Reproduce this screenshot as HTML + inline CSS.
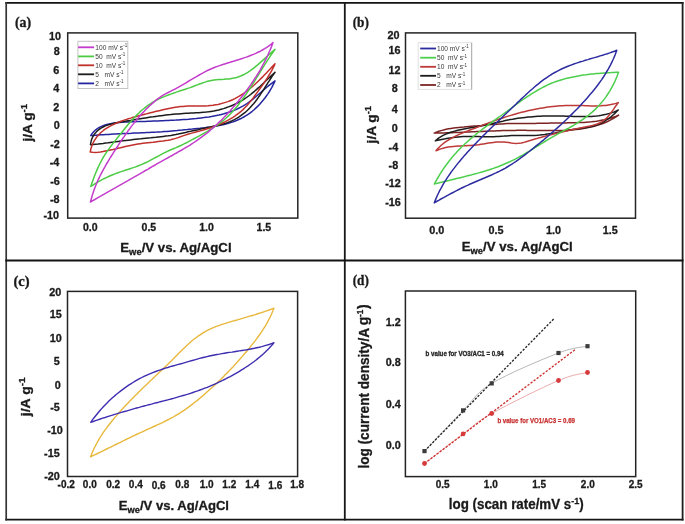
<!DOCTYPE html>
<html><head><meta charset="utf-8"><title>figure</title>
<style>html,body{margin:0;padding:0;background:#fff;width:685px;height:524px;overflow:hidden}svg{display:block;will-change:transform}</style>
</head><body>
<svg width="685" height="524" viewBox="0 0 685 524"><rect x="0" y="0" width="685" height="524" fill="#fff"/>
<line x1="6.20" y1="2.80" x2="682.60" y2="2.80" stroke="#121212" stroke-width="1.80" stroke-linecap="square"/>
<line x1="6.20" y1="519.65" x2="682.60" y2="519.65" stroke="#151515" stroke-width="1.80" stroke-linecap="square"/>
<line x1="6.20" y1="2.80" x2="6.20" y2="519.65" stroke="#353535" stroke-width="1.70" stroke-linecap="square"/>
<line x1="682.60" y1="2.80" x2="682.60" y2="519.65" stroke="#1e1e1e" stroke-width="1.80" stroke-linecap="square"/>
<line x1="344.80" y1="2.80" x2="344.80" y2="519.65" stroke="#171717" stroke-width="1.80" stroke-linecap="square"/>
<line x1="6.20" y1="260.50" x2="682.60" y2="260.50" stroke="#121212" stroke-width="1.80" stroke-linecap="square"/>
<text x="14.90" y="26.60" font-size="15.50" font-weight="bold" text-anchor="start" fill="#1a1a1a" font-family="'Liberation Serif', serif" textLength="16.20" lengthAdjust="spacingAndGlyphs"  stroke="#1a1a1a" stroke-width="0.35">(a)</text>
<text x="352.70" y="26.60" font-size="15.50" font-weight="bold" text-anchor="start" fill="#1a1a1a" font-family="'Liberation Serif', serif" textLength="16.20" lengthAdjust="spacingAndGlyphs"  stroke="#1a1a1a" stroke-width="0.35">(b)</text>
<text x="13.40" y="285.90" font-size="15.50" font-weight="bold" text-anchor="start" fill="#1a1a1a" font-family="'Liberation Serif', serif" textLength="16.20" lengthAdjust="spacingAndGlyphs"  stroke="#1a1a1a" stroke-width="0.35">(c)</text>
<text x="352.70" y="285.20" font-size="15.50" font-weight="bold" text-anchor="start" fill="#1a1a1a" font-family="'Liberation Serif', serif" textLength="16.20" lengthAdjust="spacingAndGlyphs"  stroke="#1a1a1a" stroke-width="0.35">(d)</text>
<rect x="67.70" y="32.90" width="230.10" height="185.20" fill="none" stroke="#242424" stroke-width="1.50"/>
<text x="61.05" y="39.87" font-size="10.80" font-weight="bold" text-anchor="end" fill="#1a1a1a" font-family="'Liberation Sans', sans-serif"  stroke="#1a1a1a" stroke-width="0.3">10</text>
<text x="59.75" y="54.72" font-size="10.80" font-weight="bold" text-anchor="end" fill="#1a1a1a" font-family="'Liberation Sans', sans-serif"  stroke="#1a1a1a" stroke-width="0.3">8</text>
<text x="59.25" y="73.87" font-size="10.80" font-weight="bold" text-anchor="end" fill="#1a1a1a" font-family="'Liberation Sans', sans-serif"  stroke="#1a1a1a" stroke-width="0.3">6</text>
<text x="59.25" y="91.87" font-size="10.80" font-weight="bold" text-anchor="end" fill="#1a1a1a" font-family="'Liberation Sans', sans-serif"  stroke="#1a1a1a" stroke-width="0.3">4</text>
<text x="59.25" y="110.57" font-size="10.80" font-weight="bold" text-anchor="end" fill="#1a1a1a" font-family="'Liberation Sans', sans-serif"  stroke="#1a1a1a" stroke-width="0.3">2</text>
<text x="59.65" y="128.67" font-size="10.80" font-weight="bold" text-anchor="end" fill="#1a1a1a" font-family="'Liberation Sans', sans-serif"  stroke="#1a1a1a" stroke-width="0.3">0</text>
<text x="59.75" y="147.57" font-size="10.80" font-weight="bold" text-anchor="end" fill="#1a1a1a" font-family="'Liberation Sans', sans-serif"  stroke="#1a1a1a" stroke-width="0.3">-2</text>
<text x="59.35" y="166.37" font-size="10.80" font-weight="bold" text-anchor="end" fill="#1a1a1a" font-family="'Liberation Sans', sans-serif"  stroke="#1a1a1a" stroke-width="0.3">-4</text>
<text x="59.75" y="184.87" font-size="10.80" font-weight="bold" text-anchor="end" fill="#1a1a1a" font-family="'Liberation Sans', sans-serif"  stroke="#1a1a1a" stroke-width="0.3">-6</text>
<text x="59.55" y="203.37" font-size="10.80" font-weight="bold" text-anchor="end" fill="#1a1a1a" font-family="'Liberation Sans', sans-serif"  stroke="#1a1a1a" stroke-width="0.3">-8</text>
<text x="59.05" y="219.27" font-size="10.80" font-weight="bold" text-anchor="end" fill="#1a1a1a" font-family="'Liberation Sans', sans-serif"  stroke="#1a1a1a" stroke-width="0.3">-10</text>
<text x="90.20" y="230.66" font-size="10.50" font-weight="bold" text-anchor="middle" fill="#1a1a1a" font-family="'Liberation Sans', sans-serif"  stroke="#1a1a1a" stroke-width="0.3">0.0</text>
<text x="148.90" y="230.66" font-size="10.50" font-weight="bold" text-anchor="middle" fill="#1a1a1a" font-family="'Liberation Sans', sans-serif"  stroke="#1a1a1a" stroke-width="0.3">0.5</text>
<text x="206.50" y="230.66" font-size="10.50" font-weight="bold" text-anchor="middle" fill="#1a1a1a" font-family="'Liberation Sans', sans-serif"  stroke="#1a1a1a" stroke-width="0.3">1.0</text>
<text x="263.90" y="230.66" font-size="10.50" font-weight="bold" text-anchor="middle" fill="#1a1a1a" font-family="'Liberation Sans', sans-serif"  stroke="#1a1a1a" stroke-width="0.3">1.5</text>
<text x="120.30" y="252.30" font-size="12.7" font-weight="bold" fill="#1a1a1a" stroke="#1a1a1a" stroke-width="0.3" font-family="'Liberation Sans', sans-serif" textLength="111.30" lengthAdjust="spacingAndGlyphs">E<tspan font-size="9" dy="3">we</tspan><tspan dy="-3">/V vs. Ag/AgCl</tspan></text>
<text transform="translate(31.60 141.60) rotate(-90)" font-size="12.8" font-weight="bold" fill="#1a1a1a" stroke="#1a1a1a" stroke-width="0.3" font-family="'Liberation Sans', sans-serif" textLength="37.70" lengthAdjust="spacingAndGlyphs">j/A g<tspan font-size="9" dy="-5">-1</tspan></text>
<rect x="77.90" y="41.30" width="49.90" height="47.20" fill="#fff" stroke="#c4c4c4" stroke-width="1"/>
<line x1="78.10" y1="47.30" x2="94.10" y2="47.30" stroke="#c43ccc" stroke-width="1.8"/>
<text x="95.30" y="49.70" font-size="6.6" fill="#383838" font-family="'Liberation Sans', sans-serif" xml:space="preserve">100 mV s<tspan font-size="4.5" dy="-2.5">-1</tspan></text>
<line x1="78.10" y1="56.40" x2="94.10" y2="56.40" stroke="#4ccc44" stroke-width="1.8"/>
<text x="95.30" y="58.80" font-size="6.6" fill="#383838" font-family="'Liberation Sans', sans-serif" xml:space="preserve">50  mV s<tspan font-size="4.5" dy="-2.5">-1</tspan></text>
<line x1="78.10" y1="65.30" x2="94.10" y2="65.30" stroke="#c0302c" stroke-width="1.8"/>
<text x="95.30" y="67.70" font-size="6.6" fill="#383838" font-family="'Liberation Sans', sans-serif" xml:space="preserve">10  mV s<tspan font-size="4.5" dy="-2.5">-1</tspan></text>
<line x1="78.10" y1="74.30" x2="94.10" y2="74.30" stroke="#1c1c1c" stroke-width="1.8"/>
<text x="95.30" y="76.70" font-size="6.6" fill="#383838" font-family="'Liberation Sans', sans-serif" xml:space="preserve">5   mV s<tspan font-size="4.5" dy="-2.5">-1</tspan></text>
<line x1="78.10" y1="83.40" x2="94.10" y2="83.40" stroke="#2626a0" stroke-width="1.8"/>
<text x="95.30" y="85.80" font-size="6.6" fill="#383838" font-family="'Liberation Sans', sans-serif" xml:space="preserve">2   mV s<tspan font-size="4.5" dy="-2.5">-1</tspan></text>
<path d="M90.7 135.6L92.2 133.4L93.9 131.5L95.7 129.8L97.7 128.4L99.8 127.2L102.0 126.1L104.3 125.2L106.7 124.5L109.1 123.9L111.6 123.4L114.1 123.0L116.7 122.7L119.3 122.4L121.9 122.2L124.5 122.1L127.1 122.0L129.8 121.9L132.4 121.8L135.0 121.7L137.6 121.6L140.2 121.5L142.7 121.5L145.3 121.4L147.9 121.3L150.4 121.2L153.0 121.1L155.5 121.0L158.1 120.9L160.6 120.8L163.2 120.7L165.7 120.6L168.2 120.5L170.7 120.3L173.3 120.2L175.8 120.1L178.3 119.9L180.9 119.7L183.4 119.5L185.9 119.4L188.5 119.2L191.0 118.9L193.6 118.7L196.1 118.5L198.7 118.2L201.2 117.9L203.8 117.6L206.3 117.2L208.9 116.9L211.4 116.5L214.0 116.0L216.5 115.5L219.0 115.0L221.5 114.4L223.9 113.8L226.4 113.0L228.8 112.3L231.2 111.5L233.6 110.6L235.9 109.6L238.2 108.5L240.4 107.4L242.7 106.2L244.9 104.9L247.0 103.5L249.1 102.0L251.2 100.4L253.2 98.8L255.2 97.2L257.2 95.5L259.2 93.8L261.2 92.1L263.1 90.4L265.1 88.7L267.0 87.0L269.0 85.4L271.0 83.8L273.0 82.3L275.0 80.9L274.0 83.1L272.8 85.4L271.7 87.6L270.4 89.8L269.1 92.0L267.7 94.1L266.2 96.2L264.7 98.3L263.1 100.3L261.4 102.3L259.7 104.3L257.9 106.1L256.0 107.9L254.1 109.7L252.2 111.3L250.2 112.9L248.1 114.4L246.0 115.7L243.8 117.0L241.6 118.2L239.3 119.3L237.1 120.3L234.7 121.2L232.3 122.1L230.0 122.8L227.5 123.5L225.1 124.2L222.6 124.8L220.1 125.3L217.6 125.8L215.1 126.2L212.6 126.6L210.0 127.0L207.5 127.3L204.9 127.7L202.4 128.0L199.9 128.3L197.3 128.5L194.8 128.8L192.3 129.1L189.7 129.3L187.2 129.6L184.7 129.8L182.1 130.1L179.6 130.3L177.1 130.6L174.5 130.8L172.0 131.0L169.5 131.2L167.0 131.4L164.4 131.6L161.9 131.8L159.4 131.9L156.8 132.1L154.3 132.2L151.8 132.3L149.2 132.5L146.7 132.6L144.1 132.7L141.6 132.8L139.0 132.9L136.5 133.0L134.0 133.1L131.4 133.3L128.9 133.4L126.3 133.5L123.8 133.6L121.2 133.7L118.7 133.8L116.1 134.0L113.6 134.1L111.0 134.2L108.5 134.4L105.9 134.5L103.4 134.7L100.9 134.8L98.3 135.0L95.8 135.2L93.2 135.4L90.7 135.6Z" fill="none" stroke="#2626a0" stroke-width="1.50" stroke-linejoin="round"/>
<path d="M90.5 144.8L90.9 142.1L91.6 139.5L92.6 137.1L93.9 134.9L95.4 132.9L97.1 131.1L99.0 129.5L101.0 128.2L103.1 127.0L105.4 125.9L107.7 125.1L110.1 124.3L112.6 123.7L115.1 123.1L117.6 122.6L120.2 122.1L122.7 121.7L125.3 121.2L127.9 120.8L130.4 120.4L132.9 119.9L135.5 119.5L138.0 119.1L140.5 118.7L143.1 118.3L145.6 117.9L148.1 117.5L150.6 117.1L153.1 116.8L155.6 116.4L158.1 116.1L160.7 115.7L163.2 115.4L165.7 115.1L168.2 114.8L170.7 114.6L173.2 114.3L175.7 114.1L178.2 113.9L180.8 113.7L183.3 113.5L185.8 113.3L188.3 113.2L190.9 113.1L193.4 113.0L196.0 112.8L198.5 112.7L201.0 112.5L203.6 112.3L206.1 112.1L208.6 111.8L211.1 111.4L213.7 111.0L216.2 110.5L218.7 110.0L221.1 109.3L223.6 108.6L226.0 107.8L228.4 106.9L230.8 106.0L233.2 105.0L235.5 103.9L237.8 102.8L240.0 101.6L242.2 100.3L244.4 98.9L246.5 97.5L248.6 96.0L250.6 94.5L252.5 92.9L254.5 91.3L256.4 89.6L258.3 87.9L260.2 86.2L262.0 84.5L263.9 82.7L265.7 81.0L267.5 79.2L269.4 77.5L271.2 75.7L273.1 74.0L275.0 72.3L273.6 74.3L272.1 76.4L270.7 78.5L269.4 80.6L268.0 82.7L266.6 84.9L265.3 87.0L263.9 89.2L262.5 91.3L261.1 93.4L259.7 95.5L258.2 97.6L256.7 99.7L255.2 101.7L253.6 103.7L251.9 105.6L250.2 107.5L248.5 109.3L246.7 111.0L244.8 112.7L242.8 114.2L240.8 115.7L238.7 117.1L236.6 118.4L234.4 119.6L232.2 120.7L229.9 121.7L227.5 122.6L225.2 123.4L222.7 124.2L220.3 124.8L217.8 125.5L215.4 126.0L212.9 126.5L210.4 127.1L207.9 127.6L205.4 128.1L202.9 128.6L200.5 129.1L198.0 129.7L195.5 130.2L193.0 130.7L190.6 131.3L188.1 131.8L185.6 132.4L183.2 132.9L180.7 133.4L178.2 134.0L175.8 134.5L173.3 134.9L170.8 135.4L168.3 135.8L165.8 136.1L163.3 136.4L160.8 136.7L158.3 137.0L155.8 137.3L153.3 137.5L150.8 137.8L148.3 138.0L145.7 138.2L143.2 138.5L140.7 138.8L138.2 139.0L135.7 139.3L133.2 139.6L130.7 139.9L128.1 140.2L125.6 140.5L123.1 140.8L120.6 141.1L118.1 141.4L115.6 141.7L113.1 142.1L110.6 142.4L108.1 142.8L105.6 143.1L103.1 143.5L100.6 143.8L98.1 144.1L95.5 144.3L93.0 144.6L90.5 144.8Z" fill="none" stroke="#1c1c1c" stroke-width="1.50" stroke-linejoin="round"/>
<path d="M90.2 152.0L90.8 149.3L91.5 146.8L92.4 144.4L93.5 142.1L94.8 139.9L96.2 137.8L97.7 135.9L99.4 134.0L101.2 132.3L103.1 130.7L105.1 129.2L107.2 127.9L109.3 126.6L111.6 125.4L113.8 124.3L116.2 123.2L118.6 122.2L121.0 121.3L123.4 120.4L125.8 119.6L128.3 118.8L130.7 118.1L133.2 117.3L135.6 116.7L138.1 116.0L140.5 115.3L143.0 114.7L145.5 114.1L147.9 113.4L150.4 112.8L152.9 112.2L155.3 111.6L157.8 111.0L160.3 110.4L162.8 109.8L165.2 109.2L167.7 108.7L170.2 108.2L172.7 107.7L175.2 107.3L177.7 106.9L180.2 106.6L182.7 106.4L185.2 106.2L187.7 106.1L190.2 106.1L192.8 106.0L195.3 106.1L197.8 106.1L200.4 106.1L202.9 106.0L205.5 105.9L208.0 105.8L210.5 105.5L213.1 105.2L215.6 104.8L218.1 104.4L220.6 103.8L223.0 103.1L225.5 102.4L227.9 101.6L230.2 100.7L232.6 99.7L234.9 98.6L237.1 97.4L239.3 96.2L241.4 94.8L243.6 93.4L245.6 92.0L247.7 90.4L249.7 88.8L251.6 87.2L253.6 85.5L255.5 83.8L257.4 82.0L259.2 80.2L261.1 78.4L262.9 76.6L264.6 74.8L266.4 72.9L268.2 71.0L269.9 69.2L271.6 67.3L273.3 65.5L275.0 63.7L274.0 66.1L272.8 68.4L271.7 70.6L270.4 72.9L269.1 75.0L267.8 77.2L266.4 79.3L265.0 81.4L263.6 83.5L262.1 85.6L260.6 87.7L259.1 89.8L257.6 91.9L256.1 93.9L254.6 96.0L253.1 98.1L251.5 100.1L249.9 102.1L248.3 104.1L246.6 106.0L244.8 107.8L243.0 109.6L241.1 111.3L239.1 112.9L237.1 114.4L235.1 115.9L233.0 117.3L230.8 118.6L228.6 119.9L226.3 121.1L224.1 122.3L221.8 123.3L219.4 124.4L217.0 125.4L214.7 126.3L212.2 127.2L209.8 128.0L207.4 128.7L204.9 129.5L202.5 130.2L200.0 130.9L197.6 131.5L195.1 132.2L192.7 132.9L190.2 133.6L187.8 134.3L185.3 135.1L182.9 135.9L180.5 136.8L178.1 137.6L175.6 138.4L173.2 139.1L170.7 139.7L168.2 140.2L165.7 140.6L163.2 141.0L160.6 141.3L158.1 141.6L155.6 141.9L153.0 142.2L150.5 142.4L147.9 142.7L145.4 143.0L142.8 143.3L140.3 143.7L137.8 144.1L135.3 144.6L132.8 145.1L130.3 145.6L127.8 146.1L125.3 146.6L122.8 147.2L120.3 147.8L117.9 148.3L115.4 148.9L112.9 149.5L110.4 150.0L107.9 150.6L105.5 151.1L103.0 151.6L100.5 152.0L97.9 152.3L95.4 152.4L92.8 152.3L90.2 152.0Z" fill="none" stroke="#c0302c" stroke-width="1.50" stroke-linejoin="round"/>
<path d="M90.8 186.5L91.6 184.1L92.4 181.8L93.2 179.4L94.1 177.0L95.0 174.6L96.0 172.3L97.0 169.9L98.0 167.6L99.1 165.3L100.2 163.0L101.4 160.8L102.6 158.5L103.9 156.4L105.3 154.2L106.6 152.2L108.0 150.1L109.5 148.1L111.0 146.1L112.5 144.1L114.0 142.1L115.6 140.1L117.1 138.2L118.7 136.2L120.3 134.2L121.9 132.2L123.5 130.2L125.1 128.2L126.7 126.2L128.3 124.3L130.0 122.4L131.7 120.4L133.4 118.6L135.1 116.7L136.9 114.9L138.7 113.2L140.5 111.4L142.4 109.8L144.3 108.2L146.3 106.6L148.3 105.2L150.3 103.8L152.4 102.4L154.6 101.2L156.8 100.0L159.0 98.9L161.3 97.9L163.6 96.9L166.0 95.9L168.4 95.0L170.7 94.1L173.2 93.3L175.6 92.4L178.0 91.6L180.4 90.8L182.9 90.0L185.3 89.2L187.7 88.4L190.1 87.6L192.5 86.7L194.9 85.8L197.2 84.9L199.6 84.0L201.9 83.2L204.3 82.4L206.6 81.6L209.0 81.0L211.4 80.5L213.9 80.1L216.4 79.8L218.9 79.6L221.4 79.4L224.0 79.3L226.5 79.1L229.1 78.9L231.6 78.5L234.0 78.1L236.5 77.5L238.8 76.7L241.2 75.8L243.4 74.8L245.6 73.6L247.8 72.3L249.9 70.9L252.0 69.4L254.0 67.8L256.0 66.2L258.0 64.6L259.9 62.9L261.9 61.1L263.8 59.4L265.6 57.7L267.5 56.0L269.4 54.3L271.3 52.6L273.1 51.0L275.0 49.4L273.5 51.5L272.0 53.6L270.6 55.7L269.2 57.8L267.8 59.9L266.4 62.1L265.0 64.2L263.7 66.4L262.3 68.5L261.0 70.7L259.6 72.9L258.3 75.0L257.0 77.2L255.6 79.4L254.3 81.5L252.9 83.7L251.6 85.8L250.2 88.0L248.8 90.1L247.4 92.2L246.0 94.4L244.5 96.5L243.0 98.5L241.5 100.6L240.0 102.6L238.4 104.7L236.8 106.7L235.2 108.6L233.5 110.5L231.8 112.4L230.0 114.3L228.2 116.1L226.4 117.8L224.5 119.5L222.5 121.1L220.5 122.7L218.5 124.2L216.4 125.6L214.3 127.0L212.1 128.4L210.0 129.7L207.8 131.1L205.6 132.3L203.3 133.6L201.1 134.8L198.9 136.1L196.6 137.3L194.4 138.5L192.1 139.7L189.9 140.9L187.7 142.1L185.4 143.2L183.1 144.4L180.8 145.5L178.5 146.5L176.2 147.6L173.9 148.5L171.5 149.5L169.2 150.5L166.9 151.6L164.6 152.7L162.3 153.9L160.1 155.1L157.8 156.3L155.6 157.5L153.4 158.7L151.1 159.9L148.9 161.1L146.6 162.3L144.3 163.3L142.0 164.4L139.6 165.3L137.3 166.2L134.9 167.1L132.5 167.9L130.1 168.7L127.6 169.5L125.2 170.3L122.8 171.1L120.4 171.9L118.0 172.7L115.6 173.6L113.3 174.5L110.9 175.5L108.6 176.5L106.3 177.6L104.0 178.7L101.7 179.9L99.5 181.1L97.3 182.4L95.1 183.7L92.9 185.1L90.8 186.5Z" fill="none" stroke="#4ccc44" stroke-width="1.50" stroke-linejoin="round"/>
<path d="M90.5 202.0L91.1 199.5L91.8 197.0L92.5 194.6L93.3 192.2L94.1 189.8L95.0 187.4L95.9 185.0L96.9 182.7L97.9 180.4L99.0 178.1L100.1 175.8L101.2 173.6L102.4 171.4L103.6 169.1L104.9 166.9L106.1 164.7L107.4 162.5L108.7 160.4L110.0 158.2L111.4 156.0L112.7 153.9L114.1 151.7L115.5 149.6L116.8 147.5L118.2 145.3L119.6 143.2L121.0 141.1L122.4 139.0L123.9 136.9L125.3 134.8L126.8 132.8L128.2 130.7L129.7 128.7L131.2 126.6L132.8 124.6L134.3 122.6L135.9 120.7L137.5 118.7L139.2 116.8L140.8 114.9L142.5 113.0L144.3 111.2L146.0 109.3L147.8 107.6L149.7 105.8L151.5 104.1L153.5 102.4L155.4 100.7L157.4 99.1L159.5 97.6L161.6 96.2L163.7 94.9L165.9 93.7L168.2 92.5L170.4 91.4L172.7 90.2L174.9 89.1L177.2 87.9L179.4 86.7L181.6 85.4L183.8 84.1L186.0 82.8L188.1 81.5L190.3 80.2L192.5 78.9L194.7 77.6L196.9 76.3L199.1 75.0L201.3 73.8L203.5 72.6L205.7 71.4L208.0 70.3L210.3 69.3L212.6 68.3L214.9 67.3L217.3 66.4L219.7 65.6L222.1 64.8L224.5 64.0L226.9 63.2L229.3 62.5L231.8 61.7L234.2 61.0L236.6 60.2L239.1 59.5L241.5 58.7L243.9 57.9L246.3 57.1L248.7 56.2L251.1 55.3L253.4 54.4L255.7 53.4L258.0 52.3L260.3 51.2L262.5 50.0L264.7 48.7L266.8 47.3L268.9 45.8L271.0 44.3L273.0 42.6L272.1 45.0L271.2 47.4L270.2 49.7L269.2 52.0L268.2 54.4L267.1 56.7L266.0 58.9L264.9 61.2L263.7 63.5L262.5 65.7L261.3 67.9L260.1 70.1L258.8 72.3L257.5 74.4L256.1 76.6L254.7 78.7L253.3 80.9L251.9 83.0L250.5 85.1L249.0 87.1L247.5 89.2L246.0 91.2L244.5 93.3L243.0 95.3L241.4 97.3L239.8 99.3L238.2 101.3L236.6 103.2L235.0 105.2L233.3 107.1L231.7 109.0L230.0 111.0L228.3 112.8L226.5 114.7L224.8 116.5L223.0 118.4L221.3 120.2L219.4 121.9L217.6 123.7L215.8 125.4L213.9 127.1L212.0 128.8L210.1 130.4L208.2 132.1L206.2 133.6L204.2 135.2L202.2 136.7L200.2 138.2L198.1 139.7L196.0 141.1L193.9 142.5L191.8 143.9L189.7 145.3L187.5 146.6L185.3 147.9L183.1 149.2L180.9 150.5L178.7 151.7L176.5 153.0L174.3 154.2L172.1 155.5L169.8 156.7L167.6 158.0L165.4 159.2L163.2 160.4L161.0 161.7L158.7 162.9L156.5 164.2L154.3 165.5L152.1 166.7L149.9 168.0L147.7 169.3L145.5 170.5L143.3 171.8L141.1 173.1L138.9 174.4L136.7 175.6L134.5 176.9L132.3 178.2L130.1 179.4L127.9 180.7L125.7 181.9L123.5 183.2L121.3 184.4L119.1 185.7L116.9 186.9L114.7 188.2L112.5 189.4L110.3 190.7L108.1 191.9L105.9 193.2L103.7 194.4L101.5 195.7L99.3 196.9L97.1 198.2L94.9 199.5L92.7 200.7L90.5 202.0Z" fill="none" stroke="#c43ccc" stroke-width="1.50" stroke-linejoin="round"/>
<rect x="405.50" y="32.90" width="230.00" height="185.30" fill="none" stroke="#242424" stroke-width="1.50"/>
<text x="399.55" y="38.77" font-size="10.80" font-weight="bold" text-anchor="end" fill="#1a1a1a" font-family="'Liberation Sans', sans-serif"  stroke="#1a1a1a" stroke-width="0.3">20</text>
<text x="400.45" y="54.17" font-size="10.80" font-weight="bold" text-anchor="end" fill="#1a1a1a" font-family="'Liberation Sans', sans-serif"  stroke="#1a1a1a" stroke-width="0.3">16</text>
<text x="400.45" y="73.67" font-size="10.80" font-weight="bold" text-anchor="end" fill="#1a1a1a" font-family="'Liberation Sans', sans-serif"  stroke="#1a1a1a" stroke-width="0.3">12</text>
<text x="397.65" y="92.17" font-size="10.80" font-weight="bold" text-anchor="end" fill="#1a1a1a" font-family="'Liberation Sans', sans-serif"  stroke="#1a1a1a" stroke-width="0.3">8</text>
<text x="397.65" y="112.87" font-size="10.80" font-weight="bold" text-anchor="end" fill="#1a1a1a" font-family="'Liberation Sans', sans-serif"  stroke="#1a1a1a" stroke-width="0.3">4</text>
<text x="397.65" y="132.27" font-size="10.80" font-weight="bold" text-anchor="end" fill="#1a1a1a" font-family="'Liberation Sans', sans-serif"  stroke="#1a1a1a" stroke-width="0.3">0</text>
<text x="398.15" y="151.17" font-size="10.80" font-weight="bold" text-anchor="end" fill="#1a1a1a" font-family="'Liberation Sans', sans-serif"  stroke="#1a1a1a" stroke-width="0.3">-4</text>
<text x="398.15" y="168.87" font-size="10.80" font-weight="bold" text-anchor="end" fill="#1a1a1a" font-family="'Liberation Sans', sans-serif"  stroke="#1a1a1a" stroke-width="0.3">-8</text>
<text x="400.85" y="186.67" font-size="10.80" font-weight="bold" text-anchor="end" fill="#1a1a1a" font-family="'Liberation Sans', sans-serif"  stroke="#1a1a1a" stroke-width="0.3">-12</text>
<text x="400.85" y="205.97" font-size="10.80" font-weight="bold" text-anchor="end" fill="#1a1a1a" font-family="'Liberation Sans', sans-serif"  stroke="#1a1a1a" stroke-width="0.3">-16</text>
<text x="436.80" y="234.07" font-size="10.80" font-weight="bold" text-anchor="middle" fill="#1a1a1a" font-family="'Liberation Sans', sans-serif"  stroke="#1a1a1a" stroke-width="0.3">0.0</text>
<text x="495.90" y="234.07" font-size="10.80" font-weight="bold" text-anchor="middle" fill="#1a1a1a" font-family="'Liberation Sans', sans-serif"  stroke="#1a1a1a" stroke-width="0.3">0.5</text>
<text x="553.50" y="234.07" font-size="10.80" font-weight="bold" text-anchor="middle" fill="#1a1a1a" font-family="'Liberation Sans', sans-serif"  stroke="#1a1a1a" stroke-width="0.3">1.0</text>
<text x="610.20" y="234.07" font-size="10.80" font-weight="bold" text-anchor="middle" fill="#1a1a1a" font-family="'Liberation Sans', sans-serif"  stroke="#1a1a1a" stroke-width="0.3">1.5</text>
<text x="461.80" y="251.40" font-size="12.7" font-weight="bold" fill="#1a1a1a" stroke="#1a1a1a" stroke-width="0.3" font-family="'Liberation Sans', sans-serif" textLength="111.00" lengthAdjust="spacingAndGlyphs">E<tspan font-size="9" dy="3">we</tspan><tspan dy="-3">/V vs. Ag/AgCl</tspan></text>
<text transform="translate(375.50 143.40) rotate(-90)" font-size="12.8" font-weight="bold" fill="#1a1a1a" stroke="#1a1a1a" stroke-width="0.3" font-family="'Liberation Sans', sans-serif" textLength="37.60" lengthAdjust="spacingAndGlyphs">j/A g<tspan font-size="9" dy="-5">-1</tspan></text>
<rect x="418.20" y="42.70" width="53.40" height="46.70" fill="#fff" stroke="#e2e2e2" stroke-width="1"/>
<line x1="471.60" y1="42.70" x2="471.60" y2="89.40" stroke="#b4b4b4" stroke-width="1.2"/>
<line x1="420.20" y1="48.50" x2="436.00" y2="48.50" stroke="#2c2ca0" stroke-width="1.8"/>
<text x="437.00" y="50.90" font-size="6.6" fill="#383838" font-family="'Liberation Sans', sans-serif" xml:space="preserve">100 mV s<tspan font-size="4.5" dy="-2.5">-1</tspan></text>
<line x1="420.20" y1="57.70" x2="436.00" y2="57.70" stroke="#4ccf4c" stroke-width="1.8"/>
<text x="437.00" y="60.10" font-size="6.6" fill="#383838" font-family="'Liberation Sans', sans-serif" xml:space="preserve">50  mV s<tspan font-size="4.5" dy="-2.5">-1</tspan></text>
<line x1="420.20" y1="66.80" x2="436.00" y2="66.80" stroke="#bd3a38" stroke-width="1.8"/>
<text x="437.00" y="69.20" font-size="6.6" fill="#383838" font-family="'Liberation Sans', sans-serif" xml:space="preserve">10  mV s<tspan font-size="4.5" dy="-2.5">-1</tspan></text>
<line x1="420.20" y1="75.80" x2="436.00" y2="75.80" stroke="#1c1c1c" stroke-width="1.8"/>
<text x="437.00" y="78.20" font-size="6.6" fill="#383838" font-family="'Liberation Sans', sans-serif" xml:space="preserve">5   mV s<tspan font-size="4.5" dy="-2.5">-1</tspan></text>
<line x1="420.20" y1="85.00" x2="436.00" y2="85.00" stroke="#7c2424" stroke-width="1.8"/>
<text x="437.00" y="87.40" font-size="6.6" fill="#383838" font-family="'Liberation Sans', sans-serif" xml:space="preserve">2   mV s<tspan font-size="4.5" dy="-2.5">-1</tspan></text>
<path d="M434.1 133.1L436.4 132.1L438.8 131.3L441.2 130.6L443.7 129.9L446.1 129.3L448.6 128.8L451.1 128.4L453.6 128.0L456.1 127.7L458.7 127.4L461.2 127.2L463.8 127.0L466.4 126.7L468.9 126.5L471.5 126.3L474.0 126.1L476.6 125.9L479.2 125.7L481.7 125.5L484.3 125.2L486.8 125.0L489.4 124.8L491.9 124.6L494.5 124.4L497.0 124.2L499.5 124.0L502.1 123.9L504.6 123.7L507.2 123.6L509.7 123.5L512.3 123.4L514.8 123.4L517.4 123.4L519.9 123.4L522.5 123.4L525.0 123.4L527.6 123.4L530.1 123.4L532.7 123.4L535.2 123.4L537.8 123.3L540.3 123.3L542.9 123.3L545.4 123.2L548.0 123.2L550.5 123.1L553.1 123.1L555.6 123.0L558.2 123.0L560.7 123.0L563.3 122.9L565.9 122.9L568.4 122.8L571.0 122.8L573.6 122.7L576.1 122.7L578.7 122.6L581.3 122.5L583.8 122.4L586.4 122.2L588.9 122.0L591.4 121.8L594.0 121.5L596.5 121.2L599.0 120.8L601.5 120.3L604.0 119.8L606.5 119.2L608.9 118.6L611.4 117.8L613.8 117.0L616.2 116.1L618.6 115.1L616.5 116.6L614.3 117.9L612.1 119.2L609.8 120.4L607.6 121.5L605.3 122.5L602.9 123.5L600.5 124.3L598.2 125.1L595.7 125.8L593.3 126.5L590.8 127.1L588.4 127.6L585.9 128.1L583.4 128.5L580.9 128.9L578.4 129.2L575.9 129.5L573.4 129.8L570.9 130.0L568.3 130.1L565.8 130.3L563.3 130.4L560.8 130.5L558.2 130.6L555.7 130.6L553.1 130.6L550.6 130.6L548.1 130.6L545.5 130.6L543.0 130.6L540.4 130.5L537.9 130.5L535.4 130.5L532.8 130.4L530.3 130.4L527.7 130.4L525.2 130.3L522.7 130.3L520.1 130.3L517.6 130.3L515.1 130.4L512.5 130.4L510.0 130.4L507.5 130.5L504.9 130.6L502.4 130.6L499.9 130.7L497.3 130.8L494.8 130.9L492.3 131.0L489.8 131.1L487.2 131.2L484.7 131.3L482.2 131.4L479.7 131.5L477.1 131.6L474.6 131.7L472.1 131.8L469.5 131.9L467.0 132.0L464.5 132.2L462.0 132.3L459.4 132.4L456.9 132.5L454.4 132.6L451.8 132.7L449.3 132.7L446.8 132.8L444.2 132.9L441.7 133.0L439.2 133.0L436.6 133.1L434.1 133.1Z" fill="none" stroke="#7c2424" stroke-width="1.50" stroke-linejoin="round"/>
<path d="M435.3 140.8L437.2 139.2L439.3 137.7L441.4 136.4L443.6 135.2L445.8 134.1L448.1 133.2L450.5 132.3L452.9 131.6L455.3 130.9L457.8 130.3L460.3 129.7L462.8 129.2L465.3 128.7L467.8 128.3L470.4 127.8L472.9 127.4L475.4 126.9L477.9 126.4L480.4 126.0L483.0 125.5L485.5 125.0L488.0 124.5L490.4 123.9L492.9 123.4L495.4 122.8L497.9 122.3L500.3 121.7L502.8 121.2L505.3 120.6L507.8 120.1L510.2 119.6L512.7 119.2L515.2 118.7L517.7 118.3L520.2 118.0L522.7 117.7L525.2 117.4L527.8 117.1L530.3 116.9L532.8 116.7L535.3 116.5L537.9 116.3L540.4 116.2L542.9 116.1L545.5 116.0L548.0 116.0L550.6 116.0L553.1 116.0L555.7 116.0L558.2 116.0L560.8 116.0L563.3 116.1L565.9 116.2L568.4 116.2L571.0 116.3L573.5 116.4L576.1 116.5L578.7 116.5L581.2 116.6L583.8 116.6L586.3 116.5L588.8 116.5L591.4 116.4L593.9 116.2L596.4 116.0L598.9 115.7L601.4 115.3L603.8 114.8L606.3 114.3L608.7 113.6L611.2 112.9L613.6 112.1L615.9 111.1L618.3 110.0L616.5 111.8L614.6 113.6L612.7 115.3L610.7 117.0L608.6 118.6L606.5 120.0L604.4 121.4L602.2 122.6L599.9 123.7L597.5 124.7L595.2 125.5L592.7 126.2L590.3 126.8L587.7 127.3L585.2 127.8L582.7 128.1L580.1 128.5L577.6 128.9L575.0 129.2L572.4 129.6L569.9 130.0L567.4 130.5L564.8 131.0L562.3 131.4L559.8 131.9L557.3 132.4L554.8 132.9L552.2 133.3L549.7 133.7L547.2 134.1L544.7 134.5L542.2 134.8L539.7 135.1L537.1 135.3L534.6 135.4L532.1 135.5L529.5 135.6L527.0 135.5L524.4 135.5L521.9 135.4L519.3 135.4L516.8 135.4L514.2 135.5L511.7 135.6L509.1 135.7L506.6 135.9L504.0 136.1L501.5 136.2L498.9 136.4L496.4 136.5L493.8 136.7L491.3 136.7L488.7 136.8L486.2 136.8L483.6 136.8L481.0 136.7L478.5 136.6L475.9 136.5L473.4 136.5L470.8 136.4L468.2 136.4L465.7 136.5L463.1 136.6L460.6 136.8L458.0 137.0L455.5 137.3L453.0 137.6L450.4 137.9L447.9 138.3L445.4 138.8L442.8 139.2L440.3 139.7L437.8 140.2L435.3 140.8Z" fill="none" stroke="#1c1c1c" stroke-width="1.50" stroke-linejoin="round"/>
<path d="M436.0 150.7L437.6 148.8L439.4 147.0L441.2 145.3L443.1 143.7L445.1 142.2L447.1 140.8L449.2 139.5L451.4 138.3L453.6 137.1L455.9 136.0L458.2 134.9L460.5 133.9L462.9 132.9L465.2 131.9L467.6 131.0L470.0 130.0L472.4 129.1L474.8 128.2L477.2 127.2L479.5 126.3L481.9 125.4L484.3 124.5L486.7 123.6L489.1 122.7L491.5 121.9L493.8 121.0L496.2 120.1L498.6 119.3L501.0 118.5L503.4 117.7L505.8 116.9L508.2 116.1L510.7 115.4L513.1 114.7L515.5 114.0L518.0 113.3L520.4 112.6L522.9 112.0L525.3 111.4L527.8 110.8L530.3 110.2L532.8 109.7L535.2 109.2L537.7 108.7L540.2 108.3L542.7 107.9L545.2 107.5L547.7 107.1L550.2 106.8L552.8 106.5L555.3 106.2L557.8 106.0L560.3 105.8L562.9 105.7L565.4 105.5L567.9 105.4L570.5 105.4L573.0 105.4L575.5 105.4L578.1 105.5L580.6 105.5L583.2 105.6L585.7 105.7L588.2 105.8L590.8 105.9L593.3 105.9L595.8 105.9L598.4 105.9L600.9 105.8L603.4 105.6L605.9 105.4L608.4 105.0L610.9 104.6L613.4 104.1L615.8 103.4L618.3 102.6L616.9 104.5L615.4 106.5L614.0 108.6L612.5 110.8L610.9 112.9L609.3 115.0L607.5 117.0L605.7 118.9L603.8 120.5L601.7 121.9L599.5 123.0L597.3 124.0L594.9 124.7L592.5 125.4L590.0 126.0L587.5 126.5L585.1 127.0L582.6 127.5L580.1 128.0L577.6 128.5L575.1 129.0L572.6 129.6L570.2 130.1L567.7 130.7L565.2 131.2L562.8 131.8L560.3 132.4L557.8 133.0L555.4 133.6L552.9 134.2L550.5 134.8L548.0 135.5L545.6 136.1L543.1 136.8L540.7 137.5L538.3 138.1L535.8 138.8L533.4 139.5L530.9 140.3L528.5 141.0L526.1 141.7L523.6 142.4L521.2 142.9L518.7 143.3L516.2 143.4L513.7 143.3L511.2 143.0L508.7 142.6L506.2 142.3L503.6 142.1L501.1 142.0L498.6 142.0L496.0 142.1L493.5 142.4L491.0 142.7L488.5 143.1L486.0 143.5L483.5 143.9L481.0 144.3L478.5 144.7L476.0 145.0L473.5 145.2L470.9 145.4L468.4 145.5L465.8 145.7L463.3 145.8L460.8 145.9L458.2 146.0L455.7 146.2L453.2 146.4L450.7 146.7L448.2 147.1L445.7 147.6L443.2 148.2L440.8 148.9L438.4 149.7L436.0 150.7Z" fill="none" stroke="#bd3a38" stroke-width="1.50" stroke-linejoin="round"/>
<path d="M434.3 184.1L435.5 181.9L436.7 179.7L438.0 177.5L439.3 175.3L440.6 173.1L442.0 171.0L443.4 168.9L444.9 166.8L446.4 164.8L447.9 162.7L449.4 160.7L451.0 158.7L452.6 156.8L454.3 154.8L456.0 153.0L457.7 151.1L459.4 149.3L461.2 147.5L463.0 145.7L464.8 144.0L466.7 142.3L468.6 140.6L470.4 138.9L472.4 137.3L474.3 135.7L476.2 134.1L478.2 132.5L480.2 131.0L482.2 129.4L484.2 127.9L486.2 126.4L488.2 124.9L490.2 123.4L492.3 121.9L494.3 120.4L496.4 118.9L498.4 117.4L500.5 116.0L502.6 114.5L504.6 113.0L506.7 111.5L508.7 110.0L510.8 108.5L512.8 107.0L514.9 105.5L516.9 104.0L519.0 102.5L521.0 101.0L523.1 99.5L525.2 98.1L527.3 96.7L529.4 95.3L531.5 93.9L533.6 92.6L535.8 91.3L537.9 90.0L540.1 88.8L542.3 87.6L544.6 86.5L546.8 85.4L549.1 84.3L551.4 83.3L553.7 82.4L556.1 81.5L558.5 80.7L560.9 80.0L563.3 79.3L565.7 78.6L568.2 78.0L570.7 77.4L573.2 76.9L575.7 76.4L578.2 75.9L580.7 75.5L583.2 75.1L585.8 74.8L588.3 74.4L590.9 74.1L593.4 73.9L596.0 73.6L598.5 73.4L601.1 73.2L603.6 73.0L606.1 72.9L608.6 72.7L611.2 72.6L613.6 72.4L616.1 72.3L618.6 72.2L617.7 74.6L616.8 76.9L615.8 79.3L614.8 81.6L613.7 83.9L612.5 86.2L611.3 88.4L610.0 90.7L608.6 92.8L607.2 95.0L605.8 97.1L604.3 99.1L602.7 101.1L601.1 103.1L599.4 105.0L597.7 106.8L595.9 108.6L594.1 110.4L592.2 112.1L590.2 113.7L588.3 115.3L586.3 116.8L584.2 118.3L582.2 119.8L580.1 121.2L577.9 122.6L575.8 123.9L573.6 125.3L571.4 126.5L569.2 127.8L566.9 129.0L564.7 130.2L562.5 131.4L560.2 132.6L558.0 133.8L555.8 135.1L553.6 136.3L551.4 137.6L549.2 138.9L547.0 140.2L544.9 141.5L542.7 142.8L540.5 144.2L538.4 145.5L536.2 146.9L534.1 148.2L531.9 149.6L529.8 150.9L527.6 152.2L525.4 153.5L523.2 154.8L521.0 156.0L518.8 157.2L516.6 158.4L514.3 159.6L512.1 160.7L509.8 161.8L507.4 162.8L505.1 163.8L502.8 164.8L500.4 165.7L498.1 166.7L495.7 167.5L493.3 168.4L490.9 169.2L488.5 170.0L486.0 170.8L483.6 171.5L481.2 172.2L478.7 172.9L476.2 173.6L473.8 174.2L471.3 174.9L468.8 175.5L466.4 176.1L463.9 176.8L461.4 177.4L458.9 178.0L456.5 178.6L454.0 179.2L451.5 179.8L449.0 180.4L446.6 181.0L444.1 181.6L441.6 182.2L439.2 182.8L436.7 183.4L434.3 184.1Z" fill="none" stroke="#4ccf4c" stroke-width="1.50" stroke-linejoin="round"/>
<path d="M434.3 202.8L435.2 200.4L436.2 198.1L437.2 195.8L438.3 193.5L439.4 191.2L440.6 189.0L441.8 186.8L443.0 184.6L444.3 182.4L445.7 180.3L447.0 178.2L448.4 176.1L449.9 174.0L451.3 171.9L452.8 169.9L454.4 167.9L455.9 165.9L457.5 163.9L459.1 161.9L460.7 160.0L462.4 158.1L464.0 156.1L465.7 154.2L467.4 152.3L469.1 150.5L470.9 148.6L472.6 146.7L474.3 144.9L476.1 143.1L477.8 141.3L479.6 139.4L481.4 137.6L483.1 135.8L484.9 134.1L486.7 132.3L488.5 130.5L490.3 128.7L492.1 127.0L493.9 125.2L495.8 123.5L497.6 121.7L499.4 120.0L501.2 118.2L503.0 116.5L504.9 114.7L506.7 113.0L508.5 111.2L510.4 109.5L512.2 107.7L514.0 106.0L515.9 104.2L517.7 102.4L519.5 100.7L521.4 98.9L523.2 97.2L525.1 95.5L526.9 93.7L528.8 92.0L530.7 90.3L532.6 88.7L534.5 87.0L536.4 85.4L538.4 83.8L540.4 82.2L542.3 80.7L544.4 79.2L546.4 77.8L548.5 76.4L550.6 75.0L552.7 73.7L554.8 72.5L557.0 71.3L559.3 70.1L561.5 69.0L563.8 68.0L566.1 67.0L568.5 66.0L570.9 65.1L573.2 64.3L575.6 63.4L578.1 62.6L580.5 61.8L583.0 61.1L585.4 60.3L587.9 59.6L590.3 58.8L592.8 58.1L595.3 57.4L597.7 56.7L600.1 55.9L602.6 55.2L605.0 54.4L607.4 53.7L609.8 52.9L612.2 52.0L614.5 51.2L616.8 50.3L615.9 52.7L615.0 55.1L614.0 57.5L613.0 59.8L611.9 62.1L610.8 64.4L609.6 66.6L608.4 68.9L607.1 71.0L605.8 73.2L604.5 75.3L603.1 77.5L601.7 79.6L600.2 81.6L598.7 83.7L597.2 85.7L595.7 87.7L594.1 89.7L592.5 91.7L590.9 93.6L589.2 95.5L587.6 97.5L585.9 99.4L584.2 101.3L582.5 103.1L580.8 105.0L579.0 106.9L577.3 108.7L575.5 110.5L573.7 112.3L571.9 114.1L570.1 115.9L568.3 117.7L566.5 119.5L564.6 121.2L562.8 123.0L560.9 124.7L559.0 126.4L557.1 128.1L555.2 129.8L553.3 131.5L551.4 133.2L549.5 134.8L547.6 136.5L545.6 138.1L543.7 139.8L541.7 141.4L539.8 143.0L537.8 144.6L535.8 146.2L533.8 147.8L531.9 149.4L529.9 151.0L527.9 152.5L525.9 154.1L523.9 155.6L521.8 157.2L519.8 158.7L517.8 160.1L515.7 161.6L513.6 163.0L511.5 164.4L509.4 165.7L507.2 167.0L505.0 168.3L502.8 169.5L500.6 170.6L498.3 171.8L496.0 172.9L493.7 173.9L491.4 175.0L489.1 176.0L486.7 177.0L484.4 178.0L482.0 179.0L479.7 180.0L477.3 181.0L475.0 182.0L472.7 183.0L470.3 184.0L468.0 185.1L465.7 186.1L463.4 187.2L461.1 188.3L458.8 189.5L456.6 190.6L454.3 191.8L452.1 193.0L449.8 194.2L447.6 195.4L445.4 196.6L443.1 197.8L440.9 199.0L438.7 200.3L436.5 201.5L434.3 202.8Z" fill="none" stroke="#2c2ca0" stroke-width="1.50" stroke-linejoin="round"/>
<rect x="67.50" y="291.40" width="230.10" height="185.10" fill="none" stroke="#242424" stroke-width="1.50"/>
<text x="61.15" y="295.67" font-size="10.80" font-weight="bold" text-anchor="end" fill="#1a1a1a" font-family="'Liberation Sans', sans-serif"  stroke="#1a1a1a" stroke-width="0.3">20</text>
<text x="61.65" y="318.47" font-size="10.80" font-weight="bold" text-anchor="end" fill="#1a1a1a" font-family="'Liberation Sans', sans-serif"  stroke="#1a1a1a" stroke-width="0.3">15</text>
<text x="61.65" y="342.47" font-size="10.80" font-weight="bold" text-anchor="end" fill="#1a1a1a" font-family="'Liberation Sans', sans-serif"  stroke="#1a1a1a" stroke-width="0.3">10</text>
<text x="59.85" y="365.17" font-size="10.80" font-weight="bold" text-anchor="end" fill="#1a1a1a" font-family="'Liberation Sans', sans-serif"  stroke="#1a1a1a" stroke-width="0.3">5</text>
<text x="60.65" y="389.07" font-size="10.80" font-weight="bold" text-anchor="end" fill="#1a1a1a" font-family="'Liberation Sans', sans-serif"  stroke="#1a1a1a" stroke-width="0.3">0</text>
<text x="59.85" y="411.17" font-size="10.80" font-weight="bold" text-anchor="end" fill="#1a1a1a" font-family="'Liberation Sans', sans-serif"  stroke="#1a1a1a" stroke-width="0.3">-5</text>
<text x="62.75" y="434.27" font-size="10.80" font-weight="bold" text-anchor="end" fill="#1a1a1a" font-family="'Liberation Sans', sans-serif"  stroke="#1a1a1a" stroke-width="0.3">-10</text>
<text x="59.65" y="456.97" font-size="10.80" font-weight="bold" text-anchor="end" fill="#1a1a1a" font-family="'Liberation Sans', sans-serif"  stroke="#1a1a1a" stroke-width="0.3">-15</text>
<text x="59.75" y="479.57" font-size="10.80" font-weight="bold" text-anchor="end" fill="#1a1a1a" font-family="'Liberation Sans', sans-serif"  stroke="#1a1a1a" stroke-width="0.3">-20</text>
<text x="66.20" y="488.18" font-size="10.00" font-weight="bold" text-anchor="middle" fill="#1a1a1a" font-family="'Liberation Sans', sans-serif"  stroke="#1a1a1a" stroke-width="0.3">-0.2</text>
<text x="89.80" y="488.18" font-size="10.00" font-weight="bold" text-anchor="middle" fill="#1a1a1a" font-family="'Liberation Sans', sans-serif"  stroke="#1a1a1a" stroke-width="0.3">0.0</text>
<text x="113.20" y="488.18" font-size="10.00" font-weight="bold" text-anchor="middle" fill="#1a1a1a" font-family="'Liberation Sans', sans-serif"  stroke="#1a1a1a" stroke-width="0.3">0.2</text>
<text x="135.80" y="488.18" font-size="10.00" font-weight="bold" text-anchor="middle" fill="#1a1a1a" font-family="'Liberation Sans', sans-serif"  stroke="#1a1a1a" stroke-width="0.3">0.4</text>
<text x="158.70" y="489.08" font-size="10.00" font-weight="bold" text-anchor="middle" fill="#1a1a1a" font-family="'Liberation Sans', sans-serif"  stroke="#1a1a1a" stroke-width="0.3">0.6</text>
<text x="182.30" y="488.18" font-size="10.00" font-weight="bold" text-anchor="middle" fill="#1a1a1a" font-family="'Liberation Sans', sans-serif"  stroke="#1a1a1a" stroke-width="0.3">0.8</text>
<text x="206.70" y="488.18" font-size="10.00" font-weight="bold" text-anchor="middle" fill="#1a1a1a" font-family="'Liberation Sans', sans-serif"  stroke="#1a1a1a" stroke-width="0.3">1.0</text>
<text x="229.30" y="488.18" font-size="10.00" font-weight="bold" text-anchor="middle" fill="#1a1a1a" font-family="'Liberation Sans', sans-serif"  stroke="#1a1a1a" stroke-width="0.3">1.2</text>
<text x="252.30" y="488.18" font-size="10.00" font-weight="bold" text-anchor="middle" fill="#1a1a1a" font-family="'Liberation Sans', sans-serif"  stroke="#1a1a1a" stroke-width="0.3">1.4</text>
<text x="275.30" y="489.08" font-size="10.00" font-weight="bold" text-anchor="middle" fill="#1a1a1a" font-family="'Liberation Sans', sans-serif"  stroke="#1a1a1a" stroke-width="0.3">1.6</text>
<text x="297.20" y="488.18" font-size="10.00" font-weight="bold" text-anchor="middle" fill="#1a1a1a" font-family="'Liberation Sans', sans-serif"  stroke="#1a1a1a" stroke-width="0.3">1.8</text>
<text x="118.80" y="510.20" font-size="12.7" font-weight="bold" fill="#1a1a1a" stroke="#1a1a1a" stroke-width="0.3" font-family="'Liberation Sans', sans-serif" textLength="110.20" lengthAdjust="spacingAndGlyphs">E<tspan font-size="9" dy="3">we</tspan><tspan dy="-3">/V vs. Ag/AgCl</tspan></text>
<text transform="translate(30.10 416.20) rotate(-90)" font-size="12.8" font-weight="bold" fill="#1a1a1a" stroke="#1a1a1a" stroke-width="0.3" font-family="'Liberation Sans', sans-serif" textLength="38.70" lengthAdjust="spacingAndGlyphs">j/A g<tspan font-size="9" dy="-5">-1</tspan></text>
<path d="M90.6 456.8L91.5 454.4L92.4 452.1L93.5 449.8L94.5 447.5L95.7 445.3L96.9 443.0L98.1 440.8L99.4 438.6L100.7 436.5L102.1 434.3L103.5 432.2L105.0 430.1L106.5 428.1L108.0 426.0L109.6 424.0L111.2 422.0L112.8 420.0L114.4 418.0L116.1 416.1L117.8 414.1L119.5 412.2L121.2 410.3L122.9 408.4L124.6 406.6L126.3 404.7L128.1 402.9L129.9 401.1L131.6 399.2L133.4 397.4L135.2 395.6L137.0 393.9L138.8 392.1L140.6 390.3L142.4 388.5L144.2 386.8L146.1 385.0L147.9 383.3L149.7 381.5L151.6 379.8L153.4 378.0L155.2 376.3L157.1 374.5L158.9 372.8L160.8 371.0L162.6 369.3L164.4 367.5L166.3 365.7L168.1 363.9L169.9 362.2L171.8 360.4L173.6 358.6L175.4 356.7L177.2 354.9L179.0 353.1L180.8 351.3L182.6 349.5L184.5 347.7L186.3 345.9L188.2 344.2L190.1 342.5L192.0 340.8L194.0 339.2L195.9 337.7L198.0 336.2L200.1 334.8L202.2 333.4L204.3 332.1L206.5 330.9L208.8 329.7L211.1 328.6L213.4 327.6L215.7 326.7L218.1 325.8L220.5 324.9L222.9 324.1L225.3 323.4L227.8 322.6L230.2 321.9L232.6 321.2L235.1 320.5L237.5 319.8L240.0 319.1L242.4 318.4L244.9 317.6L247.3 316.9L249.8 316.2L252.2 315.5L254.6 314.8L257.1 314.0L259.5 313.2L261.9 312.5L264.3 311.7L266.7 310.8L269.1 310.0L271.5 309.1L273.9 308.2L273.0 310.6L272.0 313.0L271.0 315.3L269.9 317.6L268.7 319.9L267.5 322.1L266.3 324.3L265.0 326.5L263.6 328.6L262.2 330.8L260.8 332.9L259.4 335.0L257.9 337.0L256.4 339.1L254.9 341.1L253.3 343.1L251.7 345.1L250.1 347.1L248.5 349.1L246.9 351.0L245.2 353.0L243.6 354.9L241.9 356.9L240.2 358.8L238.5 360.7L236.8 362.6L235.1 364.5L233.4 366.4L231.6 368.2L229.9 370.1L228.1 371.9L226.3 373.7L224.5 375.6L222.7 377.4L220.9 379.2L219.1 380.9L217.2 382.7L215.4 384.5L213.5 386.2L211.6 387.9L209.7 389.6L207.8 391.3L205.9 393.0L204.0 394.7L202.1 396.4L200.1 398.0L198.2 399.6L196.2 401.2L194.2 402.8L192.2 404.4L190.2 405.9L188.2 407.4L186.1 408.9L184.0 410.3L181.9 411.7L179.8 413.1L177.6 414.4L175.5 415.7L173.3 417.0L171.0 418.2L168.8 419.4L166.5 420.5L164.3 421.6L162.0 422.8L159.7 423.8L157.3 424.9L155.0 426.0L152.7 427.0L150.4 428.1L148.0 429.1L145.7 430.2L143.4 431.3L141.1 432.4L138.8 433.4L136.4 434.5L134.1 435.6L131.8 436.7L129.5 437.8L127.2 438.9L124.9 440.0L122.7 441.2L120.4 442.3L118.1 443.4L115.8 444.5L113.5 445.6L111.2 446.8L108.9 447.9L106.6 449.0L104.3 450.1L102.1 451.3L99.8 452.4L97.5 453.5L95.2 454.6L92.9 455.7L90.6 456.8Z" fill="none" stroke="#e8b83c" stroke-width="1.40" stroke-linejoin="round"/>
<path d="M90.7 422.3L92.2 420.2L93.7 418.2L95.3 416.2L96.9 414.2L98.5 412.2L100.2 410.3L101.9 408.4L103.6 406.5L105.3 404.7L107.1 402.9L108.9 401.1L110.8 399.3L112.7 397.6L114.6 395.9L116.5 394.3L118.5 392.7L120.5 391.1L122.5 389.6L124.5 388.1L126.6 386.6L128.7 385.2L130.8 383.8L133.0 382.5L135.1 381.2L137.3 379.9L139.5 378.7L141.8 377.5L144.0 376.4L146.3 375.3L148.6 374.3L151.0 373.3L153.3 372.4L155.7 371.5L158.1 370.6L160.5 369.8L162.9 369.0L165.3 368.2L167.8 367.5L170.2 366.7L172.7 366.0L175.1 365.3L177.6 364.6L180.0 364.0L182.5 363.3L184.9 362.6L187.4 361.9L189.8 361.2L192.3 360.5L194.7 359.8L197.2 359.1L199.6 358.4L202.1 357.8L204.5 357.2L207.0 356.6L209.4 356.0L211.9 355.5L214.4 355.0L216.9 354.5L219.4 354.1L221.9 353.6L224.4 353.2L226.9 352.8L229.4 352.4L231.9 352.1L234.4 351.7L236.9 351.3L239.4 350.9L241.9 350.5L244.4 350.1L246.9 349.7L249.4 349.2L251.9 348.7L254.4 348.3L256.8 347.7L259.3 347.2L261.8 346.6L264.2 345.9L266.7 345.2L269.1 344.5L271.5 343.6L273.9 342.7L272.3 344.7L270.6 346.6L268.9 348.4L267.1 350.2L265.3 352.0L263.5 353.7L261.6 355.4L259.7 357.0L257.7 358.6L255.8 360.2L253.8 361.7L251.7 363.2L249.6 364.7L247.6 366.1L245.4 367.5L243.3 368.9L241.2 370.2L239.0 371.6L236.8 372.8L234.6 374.1L232.4 375.4L230.2 376.6L227.9 377.7L225.7 378.9L223.4 380.0L221.1 381.2L218.8 382.2L216.5 383.3L214.2 384.3L211.8 385.3L209.5 386.3L207.2 387.3L204.8 388.2L202.4 389.1L200.0 390.0L197.7 390.9L195.3 391.7L192.9 392.5L190.5 393.3L188.0 394.1L185.6 394.8L183.2 395.5L180.8 396.2L178.3 396.9L175.9 397.6L173.5 398.3L171.0 399.0L168.6 399.6L166.1 400.3L163.7 400.9L161.2 401.5L158.8 402.2L156.3 402.8L153.9 403.4L151.4 404.1L149.0 404.7L146.5 405.4L144.1 406.0L141.6 406.7L139.2 407.4L136.7 408.0L134.3 408.7L131.9 409.4L129.4 410.1L127.0 410.8L124.5 411.5L122.1 412.2L119.7 412.9L117.2 413.7L114.8 414.4L112.4 415.2L110.0 415.9L107.5 416.7L105.1 417.5L102.7 418.2L100.3 419.0L97.9 419.8L95.5 420.6L93.1 421.5L90.7 422.3Z" fill="none" stroke="#3d2db0" stroke-width="1.40" stroke-linejoin="round"/>
<rect x="405.40" y="291.00" width="230.30" height="185.60" fill="none" stroke="#242424" stroke-width="1.50"/>
<text x="400.70" y="325.77" font-size="10.80" font-weight="bold" text-anchor="end" fill="#1a1a1a" font-family="'Liberation Sans', sans-serif"  stroke="#1a1a1a" stroke-width="0.3">1.2</text>
<text x="400.70" y="365.77" font-size="10.80" font-weight="bold" text-anchor="end" fill="#1a1a1a" font-family="'Liberation Sans', sans-serif"  stroke="#1a1a1a" stroke-width="0.3">0.8</text>
<text x="400.70" y="408.37" font-size="10.80" font-weight="bold" text-anchor="end" fill="#1a1a1a" font-family="'Liberation Sans', sans-serif"  stroke="#1a1a1a" stroke-width="0.3">0.4</text>
<text x="400.70" y="449.37" font-size="10.80" font-weight="bold" text-anchor="end" fill="#1a1a1a" font-family="'Liberation Sans', sans-serif"  stroke="#1a1a1a" stroke-width="0.3">0.0</text>
<text x="442.70" y="488.48" font-size="10.00" font-weight="bold" text-anchor="middle" fill="#1a1a1a" font-family="'Liberation Sans', sans-serif"  stroke="#1a1a1a" stroke-width="0.3">0.5</text>
<text x="490.80" y="488.48" font-size="10.00" font-weight="bold" text-anchor="middle" fill="#1a1a1a" font-family="'Liberation Sans', sans-serif"  stroke="#1a1a1a" stroke-width="0.3">1.0</text>
<text x="539.20" y="488.48" font-size="10.00" font-weight="bold" text-anchor="middle" fill="#1a1a1a" font-family="'Liberation Sans', sans-serif"  stroke="#1a1a1a" stroke-width="0.3">1.5</text>
<text x="587.80" y="488.48" font-size="10.00" font-weight="bold" text-anchor="middle" fill="#1a1a1a" font-family="'Liberation Sans', sans-serif"  stroke="#1a1a1a" stroke-width="0.3">2.0</text>
<text x="635.60" y="488.48" font-size="10.00" font-weight="bold" text-anchor="middle" fill="#1a1a1a" font-family="'Liberation Sans', sans-serif"  stroke="#1a1a1a" stroke-width="0.3">2.5</text>
<text x="448.80" y="508.60" font-size="14" font-weight="bold" fill="#1a1a1a" stroke="#1a1a1a" stroke-width="0.3" font-family="'Liberation Sans', sans-serif" textLength="135.00" lengthAdjust="spacingAndGlyphs">log (scan rate/mV s<tspan font-size="9.5" dy="-5">-1</tspan><tspan dy="5">)</tspan></text>
<text transform="translate(368.50 468.60) rotate(-90)" font-size="14.00" font-weight="bold" fill="#1a1a1a" stroke="#1a1a1a" stroke-width="0.3" font-family="'Liberation Sans', sans-serif" textLength="140.60" lengthAdjust="spacingAndGlyphs">log (current density/A</text>
<text transform="translate(368.00 325.20) rotate(-90)" font-size="14.00" font-weight="bold" fill="#1a1a1a" stroke="#1a1a1a" stroke-width="0.3" font-family="'Liberation Sans', sans-serif">g</text>
<text transform="translate(363.00 317.00) rotate(-90)" font-size="8.20" font-weight="bold" fill="#1a1a1a" stroke="#1a1a1a" stroke-width="0.3" font-family="'Liberation Sans', sans-serif">-1</text>
<text transform="translate(367.70 309.10) rotate(-90)" font-size="14.00" font-weight="bold" fill="#1a1a1a" stroke="#1a1a1a" stroke-width="0.3" font-family="'Liberation Sans', sans-serif">)</text>
<path d="M424.5 451.1C430.9 444.3 451.9 421.7 463.1 410.4C474.3 399.1 475.8 393.0 491.7 383.4C507.6 373.8 542.5 359.2 558.5 353.0C574.5 346.8 582.7 347.3 587.5 346.2" fill="none" stroke="#9a9a9a" stroke-width="0.70" stroke-linejoin="round"/>
<path d="M424.5 463.5C430.9 458.6 451.9 442.2 463.1 433.9C474.3 425.6 475.8 422.4 491.7 413.5C507.6 404.6 542.5 387.3 558.5 380.5C574.5 373.7 582.7 373.8 587.5 372.5" fill="none" stroke="#e08a8a" stroke-width="0.70" stroke-linejoin="round"/>
<line x1="424.5" y1="451.1" x2="554.5" y2="318.1" stroke="#262626" stroke-width="1.35" stroke-dasharray="2.3 1.5"/>
<line x1="424.5" y1="463.5" x2="575.1" y2="349.6" stroke="#cc3030" stroke-width="1.35" stroke-dasharray="2.3 1.5"/>
<rect x="422.40" y="449.00" width="4.2" height="4.2" fill="#3c3c3c"/>
<rect x="461.00" y="408.30" width="4.2" height="4.2" fill="#3c3c3c"/>
<rect x="489.60" y="381.30" width="4.2" height="4.2" fill="#3c3c3c"/>
<rect x="556.40" y="350.90" width="4.2" height="4.2" fill="#3c3c3c"/>
<rect x="585.40" y="344.10" width="4.2" height="4.2" fill="#3c3c3c"/>
<circle cx="424.50" cy="463.50" r="2.4" fill="#d63a3a"/>
<circle cx="463.10" cy="433.90" r="2.4" fill="#d63a3a"/>
<circle cx="491.70" cy="413.50" r="2.4" fill="#d63a3a"/>
<circle cx="558.50" cy="380.50" r="2.4" fill="#d63a3a"/>
<circle cx="587.50" cy="372.50" r="2.4" fill="#d63a3a"/>
<text x="425.60" y="356.40" font-size="6.60" font-weight="bold" text-anchor="start" fill="#262626" font-family="'Liberation Sans', sans-serif" textLength="78.20" lengthAdjust="spacingAndGlyphs"  stroke="#262626" stroke-width="0.3">b value for VO3/AC1 = 0.94</text>
<text x="497.40" y="422.60" font-size="6.60" font-weight="bold" text-anchor="start" fill="#c83232" font-family="'Liberation Sans', sans-serif" textLength="77.60" lengthAdjust="spacingAndGlyphs"  stroke="#c83232" stroke-width="0.25">b value for VO1/AC3 = 0.69</text></svg>
</body></html>
